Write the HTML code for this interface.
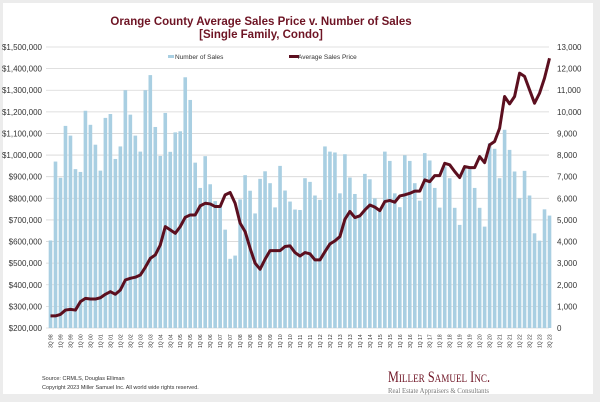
<!DOCTYPE html>
<html><head><meta charset="utf-8"><style>
body{margin:0;background:#ececec;width:600px;height:402px;overflow:hidden;font-family:"Liberation Sans",Arial,sans-serif}
svg{position:absolute;left:0;top:0}
</style></head><body>
<svg id="chart" width="600" height="402">
<rect x="3" y="3" width="590" height="391" fill="#fff"/>
<text x="261" y="25" text-anchor="middle" font-size="11.5" font-weight="bold" fill="#6e1424">Orange County Average Sales Price v. Number of Sales</text>
<text x="261" y="38" text-anchor="middle" font-size="11.5" font-weight="bold" fill="#6e1424">[Single Family, Condo]</text>
<g id="grid"></g><g id="bars"></g><g id="line"></g><g id="axes"></g>
<g>
<rect x="168" y="55" width="6" height="3" fill="#a9cfe2"/>
<text x="175" y="59" font-size="6.5" fill="#333">Number of Sales</text>
<rect x="289" y="55" width="10" height="3" fill="#5c0f1f"/>
<text x="298" y="59" font-size="6.5" fill="#333">Average Sales Price</text>
</g>
<text x="42" y="380" font-size="5.5" fill="#333">Source: CRMLS, Douglas Elliman</text>
<text x="42" y="389" font-size="5.5" fill="#333">Copyright 2023 Miller Samuel Inc.  All world wide rights reserved.</text>
<text x="388" y="382" textLength="102" lengthAdjust="spacingAndGlyphs" font-family="Liberation Serif,serif" font-size="16" fill="#6e1424">M<tspan font-size="12">ILLER</tspan> S<tspan font-size="12">AMUEL</tspan> I<tspan font-size="12">NC</tspan>.</text>
<text x="388" y="393" textLength="101" lengthAdjust="spacingAndGlyphs" font-family="Liberation Serif,serif" font-size="7.5" fill="#777">Real Estate Appraisers &amp; Consultants</text>
</svg>
<script>
const sales=[4050,7700,6950,9350,8900,7350,7220,10050,9400,8480,7280,9720,9900,7820,8400,11000,9870,8900,8160,11000,11700,9300,7960,9950,8150,9050,9100,11600,10550,7650,6480,7950,6650,5870,5680,4550,3200,3350,5950,7070,6350,5300,6900,7250,6700,5580,7500,6360,5850,5480,
5460,6930,6760,6130,5930,8400,8160,8120,6230,8040,6960,6200,5150,7130,6880,6000,5390,8160,7730,6230,5590,7990,7730,6700,5890,8090,7750,6480,5570,7470,6930,5560,4770,7390,7350,6480,5560,4690,8550,8290,6930,9170,8240,7240,6000,7270,6130,4380,4040,5490,5200];
const price=[256,256,263,283,286,283,322,337,334,334,340,356,368,356,376,422,430,435,445,481,522,538,584,669,654,638,669,712,723,723,765,777,774,762,762,816,827,777,685,646,569,500,472,518,558,558,558,577,580,549,
533,549,543,515,515,553,589,603,623,703,739,711,719,746,769,759,743,785,790,782,811,816,823,833,833,885,877,905,905,962,955,924,896,947,942,942,993,965,1047,1063,1124,1271,1237,1271,1379,1364,1302,1240,1286,1356,1448];
const leftTicks=[200,300,400,500,600,700,800,900,1000,1100,1200,1300,1400,1500];
const rightTicks=[0,1000,2000,3000,4000,5000,6000,7000,8000,9000,10000,11000,12000,13000];
const startYear=98;
const NS='http://www.w3.org/2000/svg';
const X0=48,X1=552,Y0=328,Y1=47;
const n=sales.length,step=(X1-X0)/n;
const xs=i=>X0+step*(i+0.5);
const yP=v=>Y0-(v-200)/1300*(Y0-Y1);
const yS=v=>Y0-v/13000*(Y0-Y1);
function mk(tag,attrs,parent){const e=document.createElementNS(NS,tag);for(const k in attrs)e.setAttribute(k,attrs[k]);document.getElementById(parent).appendChild(e);return e;}
leftTicks.forEach((t,i)=>{
  const g=mk('line',{x1:X0-2,x2:X1-3,y1:yP(t),y2:yP(t),stroke:'#d6d6d6','stroke-width':0.8},'grid');
  
  
  const l=mk('text',{x:42,y:yP(t)+3,'text-anchor':'end','font-size':8,fill:'#333'},'axes');
  l.textContent='$'+(t*1000).toLocaleString('en-US');
  
  
});
rightTicks.forEach(t=>{
  const l=mk('text',{x:557,y:yS(t)+3,'font-size':8,fill:'#333'},'axes');
  l.textContent=t.toLocaleString('en-US');
  
  
});
sales.forEach((v,i)=>{
  const b=mk('rect',{x:xs(i)-1.8,y:yS(v),width:3.6,height:Y0-yS(v),fill:'#a9cfe2'},'bars');
  
  
});
const p=mk('polyline',{points:price.map((v,i)=>xs(i)+','+yP(v)).join(' '),fill:'none',stroke:'#5c0f1f','stroke-width':3,'stroke-linejoin':'round'},'line');


for(let i=0;i<n;i+=2){
  const q=(i%4===0)?3:1;const yr=(startYear+Math.floor((i+2)/4))%100;
  const t=mk('text',{transform:'translate('+(xs(i)+2)+',348) rotate(-90)','font-size':5,fill:'#333'},'axes');
  t.textContent=q+'Q '+String(yr).padStart(2,'0');
  
  
}
</script>
</body></html>
